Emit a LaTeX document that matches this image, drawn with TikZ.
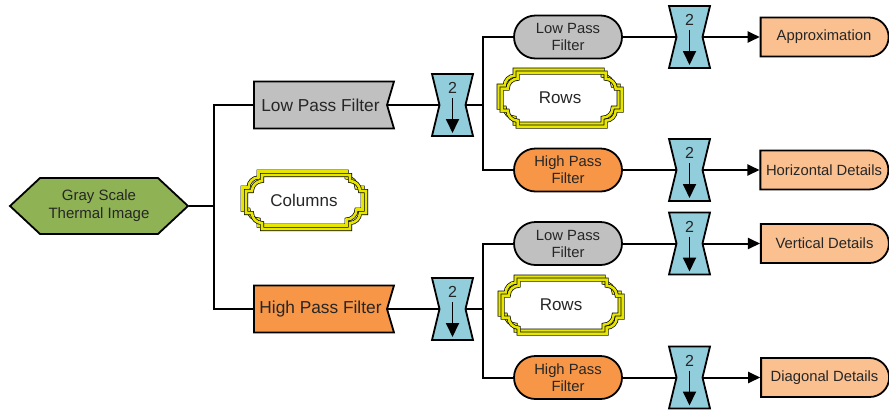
\documentclass[tikz,border=0pt]{standalone}
\usepackage{fontspec}
\setmainfont{Liberation Sans}
\usetikzlibrary{shapes.symbols,shapes.misc,arrows.meta}
\definecolor{cgreen}{HTML}{8FB255}
\definecolor{cgray}{HTML}{C0C0C0}
\definecolor{corange}{HTML}{F79646}
\definecolor{cblue}{HTML}{92CDDC}
\definecolor{cpeach}{HTML}{FAC090}
\definecolor{cyellow}{HTML}{E6E600}
\definecolor{ctext}{HTML}{262626}
\tikzset{
  box/.style={draw=black, line width=1.8pt, inner sep=0pt, text=ctext, align=center},
  hexbox/.style={box, shape=signal, signal to=west and east, signal pointer angle=86,
    fill=cgreen, minimum width=178pt, minimum height=56pt, font=\fontsize{15}{18}\selectfont},
  flagbox/.style={box, shape=signal, signal to=nowhere, signal from=east, signal pointer angle=147,
    minimum width=140pt, minimum height=47pt, font=\fontsize{17.3}{20}\selectfont},
  pillbox/.style={box, rounded rectangle, minimum width=108pt, minimum height=43pt,
    font=\fontsize{14.8}{17}\selectfont},
  outbox/.style={box, rounded rectangle, rounded rectangle west arc=none, fill=cpeach,
    minimum width=128pt, minimum height=39pt, font=\fontsize{14.8}{17}\selectfont},
  wire/.style={line width=2pt},
  arr/.style={wire, -{Triangle[length=12pt,width=11pt]}},
  hgshape/.style={draw=black, line width=1.8pt, fill=cblue, line join=miter},
  hgcore/.style={inner sep=0pt, minimum width=26pt, minimum height=62pt},
  hgnum/.style={inner sep=0pt, text=ctext, font=\fontsize{16}{18}\selectfont},
  hgarr/.style={line width=1.8pt, -{Triangle[length=14pt,width=13pt]}},
  plq/.style={draw=black, line width=0.7pt, double=cyellow, double distance=2.6pt},
  plqtext/.style={inner sep=0pt, text=ctext, font=\fontsize{17}{20}\selectfont},
  plqpath/.pic={
    \draw[plq] (-44,-27) -- (44,-27) -- (44,-21)
      .. controls (49.5,-21) and (54,-16.5) .. (54,-11)
      -- (60,-11) -- (60,11) -- (54,11)
      .. controls (54,16.5) and (49.5,21) .. (44,21)
      -- (44,27) -- (-44,27) -- (-44,21)
      .. controls (-49.5,21) and (-54,16.5) .. (-54,11)
      -- (-60,11) -- (-60,-11) -- (-54,-11)
      .. controls (-54,-16.5) and (-49.5,-21) .. (-44,-21) -- cycle;
  },
}
\newcommand{\hglass}[3]{%
  \begin{scope}[shift={(#2,#3)}]
    \draw[hgshape] (-20.5,-31) -- (20.5,-31) -- (13,0) -- (20.5,31) -- (-20.5,31) -- (-13,0) -- cycle;
    \node[hgnum] (#1-n) at (0,-17) {2};
    \draw[hgarr] (0,-7) -- (0,28);
  \end{scope}
  \node[hgcore] (#1) at (#2,#3) {};
}
\newcommand{\plaque}[5]{%
  \begin{scope}[shift={(#2,#3)}, scale=#4]
    \pic at (-1.5,-1.5) {plqpath};
    \pic at (2,2) {plqpath};
  \end{scope}
  \node[plqtext] (#1) at (#2,#3) {#5};
}
\begin{document}
\begin{tikzpicture}[x=1pt,y=-1pt]
\useasboundingbox (0,0) rectangle (889,413);
\fill[white] (0,0) rectangle (889,413);

\node[hexbox] (src) at (99,206) {Gray Scale\\Thermal Image};
\node[flagbox, fill=cgray] (lpf) at (320.5,105) {Low Pass Filter};
\node[flagbox, fill=corange] (hpf) at (320.5,309) {High Pass Filter};

\plaque{cols}{304}{200}{1}{Columns}
\plaque{rows1}{560}{98}{0.86}{Rows}
\plaque{rows2}{561}{305}{0.86}{Rows}

\hglass{h1}{452.5}{105}
\hglass{h3}{452.5}{309}

\node[pillbox, fill=cgray] (lpf2) at (568,37) {Low Pass\\Filter};
\node[pillbox, fill=corange] (hpf2) at (568,170) {High Pass\\Filter};
\node[pillbox, fill=cgray] (lpf3) at (568,243.5) {Low Pass\\Filter};
\node[pillbox, fill=corange] (hpf3) at (568,377.5) {High Pass\\Filter};

\hglass{h2}{689.5}{37}
\hglass{h4}{689.5}{170}
\hglass{h5}{689.5}{243.5}
\hglass{h6}{689.5}{377.5}

\node[outbox] (out1) at (824,37) {Approximation};
\node[outbox] (out2) at (824,170) {Horizontal Details};
\node[outbox] (out3) at (824.5,243.5) {Vertical Details};
\node[outbox] (out4) at (824.5,377.5) {Diagonal Details};

\coordinate (j1) at (214,206);
\coordinate (j2) at (483,105);
\coordinate (j3) at (483,309);

\draw[wire] (src.east) -- (j1);
\draw[wire] (lpf.west) -| (j1) |- (hpf.west);
\draw[wire] (lpf.east) -- (h1.west);
\draw[wire] (hpf.east) -- (h3.west);
\draw[wire] (h1.east) -- (j2);
\draw[wire] (h3.east) -- (j3);
\draw[wire] (lpf2.west) -| (j2) |- (hpf2.west);
\draw[wire] (lpf3.west) -| (j3) |- (hpf3.west);
\draw[wire] (lpf2.east) -- (h2.west);
\draw[wire] (hpf2.east) -- (h4.west);
\draw[wire] (lpf3.east) -- (h5.west);
\draw[wire] (hpf3.east) -- (h6.west);
\draw[arr] (h2.east) -- (out1.west);
\draw[arr] (h4.east) -- (out2.west);
\draw[arr] (h5.east) -- (out3.west);
\draw[arr] (h6.east) -- (out4.west);
\end{tikzpicture}
\end{document}
